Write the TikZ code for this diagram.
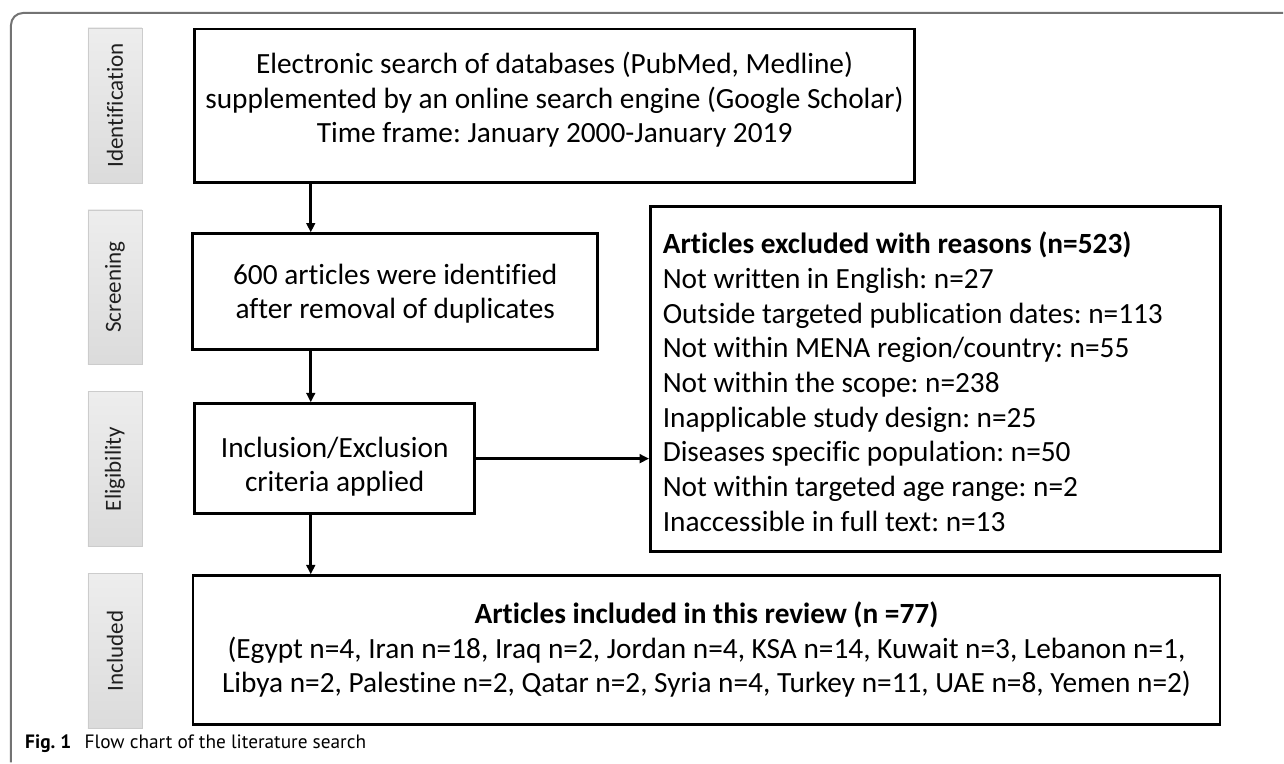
\documentclass[tikz,border=0pt]{standalone}
\usepackage{fontspec}
\setmainfont{Carlito}[Ligatures=NoCommon]
\newfontfamily\capfont{PT Sans}
\usetikzlibrary{arrows.meta}
\frenchspacing

\tikzset{
  stagebox/.style={draw=black!20, top color=black!7, bottom color=black!14, minimum width=40.5pt, minimum height=116.25pt, inner sep=0pt},
  stagetext/.style={rotate=90, inner sep=0pt, font=\fontsize{17.3}{20}\selectfont, text=black!88},
  flowbox/.style={draw=black, line width=2.2pt, inner sep=0pt},
  flowtext/.style={inner sep=0pt, align=center, font=\fontsize{22}{26}\selectfont},
  flowarrow/.style={line width=1.9pt, -{Triangle[length=7pt,width=6.5pt]}},
}

\begin{document}
\begin{tikzpicture}[x=0.75pt,y=0.75pt,yscale=-1,xscale=1]
\path (0,0) rectangle (1284,763);

%Shape: Frame
\draw [line width=1.5pt, black!55, rounded corners=9pt] (11,763) -- (11,13) -- (1284,13) ;

%Shape: Stage boxes
\node (ident) [stagebox] at (115,105.5) {};
\node (screen) [stagebox] at (115,287.5) {};
\node (elig) [stagebox] at (115,469.5) {};
\node (inclst) [stagebox] at (115,651.5) {};
% Text Node
\node (identtxt) [stagetext] at (ident) {Identification};
% Text Node
\node (screentxt) [stagetext] at (screen) {Screening};
% Text Node
\node (eligtxt) [stagetext] at (elig) {Eligibility};
% Text Node
\node (inclsttxt) [stagetext] at (inclst) {Included};

%Shape: Rectangle
\node (search) [flowbox, minimum width=540pt, minimum height=115.5pt] at (555,106) {};
%Shape: Rectangle
\node (dup) [flowbox, minimum width=303.75pt, minimum height=87pt] at (395.5,292) {};
%Shape: Rectangle
\node (crit) [flowbox, minimum width=210pt, minimum height=82.5pt] at (335,459) {};
%Shape: Rectangle
\node (excl) [flowbox, minimum width=427.5pt, minimum height=258.75pt] at (936,379) {};
%Shape: Rectangle
\node (incl) [flowbox, line width=1.9pt, minimum width=771pt, minimum height=111.75pt] at (707,650.5) {};

% Text Node
\node (searchtxt) [flowtext] at (555,100) {Electronic search of databases (PubMed, Medline)\\supplemented by an online search engine (Google Scholar)\\Time frame: January 2000-January 2019};
% Text Node
\node (duptxt) [flowtext] at (395.5,294) {600 articles were identified\\after removal of duplicates};
% Text Node
\node (crittxt) [flowtext] at (335,467) {Inclusion/Exclusion\\criteria applied};
% Text Node
\node (excltxt) [flowtext, anchor=west, align=left] at (663,382) {\textbf{Articles excluded with reasons (n=523)}\\Not written in English: n=27\\Outside targeted publication dates: n=113\\Not within MENA region/country: n=55\\Not within the scope: n=238\\Inapplicable study design: n=25\\Diseases specific population: n=50\\Not within targeted age range: n=2\\Inaccessible in full text: n=13};
% Text Node
\node (incltxt) [flowtext] at (707,650) {\textbf{Articles included in this review (n =77)}\\(Egypt n=4, Iran n=18, Iraq n=2, Jordan n=4, KSA n=14, Kuwait n=3, Lebanon n=1,\\Libya n=2, Palestine n=2, Qatar n=2, Syria n=4, Turkey n=11, UAE n=8, Yemen n=2)};

%Straight Lines
\coordinate (spine) at (311,0);
\draw [flowarrow] (search.south -| spine) -- (dup.north -| spine) ;
\draw [flowarrow] (dup.south -| spine) -- (crit.north -| spine) ;
\draw [flowarrow] (crit.east) -- (crit.east -| excl.west) ;
\draw [flowarrow] (crit.south -| spine) -- (incl.north -| spine) ;

% Text Node
\node (caption) [anchor=base west, inner sep=0pt, font=\capfont\fontsize{14.5}{17}\selectfont] at (25,749) {\textbf{Fig. 1}\hspace{0.7em}Flow chart of the literature search};

\end{tikzpicture}
\end{document}
